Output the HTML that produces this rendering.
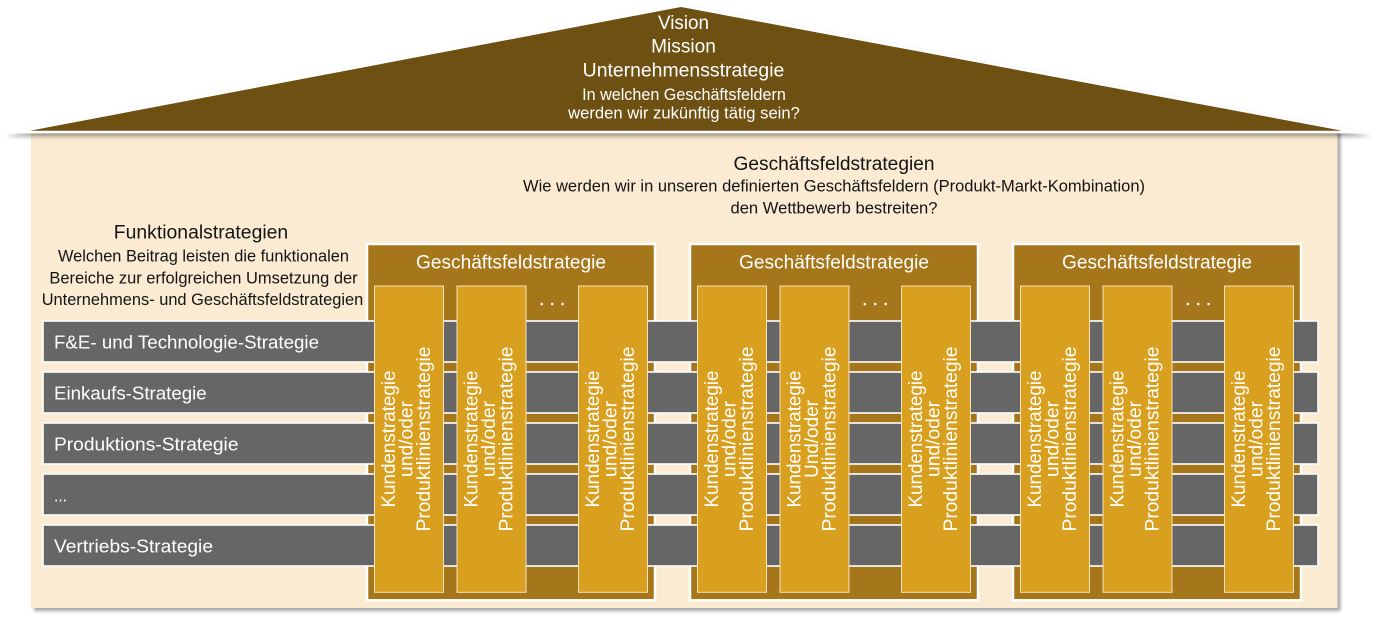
<!DOCTYPE html>
<html><head><meta charset="utf-8">
<style>
html,body{margin:0;padding:0;background:#ffffff;}
svg{display:block;}
text{font-family:"Liberation Sans",Arial,sans-serif;}
.w{fill:#ffffff;}
.k{fill:#141414;}
.ct{fill:#ffffff;font-size:19px;text-anchor:middle;}
.bt{fill:#ffffff;font-size:18.5px;}
.gt{fill:#ffffff;font-size:19px;text-anchor:middle;}
</style></head>
<body>
<svg width="1380" height="619" viewBox="0 0 1380 619" xmlns="http://www.w3.org/2000/svg">
<defs>
<filter id="sh" x="-3%" y="-3%" width="106%" height="110%">
<feDropShadow dx="3" dy="3" stdDeviation="1.6" flood-color="#000" flood-opacity="0.35"/>
</filter>
<filter id="sh2" x="-3%" y="-10%" width="106%" height="130%">
<feDropShadow dx="2" dy="3" stdDeviation="2" flood-color="#000" flood-opacity="0.4"/>
</filter>
</defs>

<!-- house body -->
<rect x="31" y="128" width="1306.5" height="480" fill="#FAEBD2" filter="url(#sh)"/>

<!-- roof -->
<polygon points="3.3,133.2 681,4.3 1369,133.2" fill="#ffffff" filter="url(#sh2)"/>
<polygon points="30,130.7 681,7 1342,130.7" fill="#6E5013"/>

<text class="w" x="683.5" y="29" font-size="19" text-anchor="middle" textLength="51" lengthAdjust="spacingAndGlyphs">Vision</text>
<text class="w" x="683.5" y="52.7" font-size="19" text-anchor="middle" textLength="64.7" lengthAdjust="spacingAndGlyphs">Mission</text>
<text class="w" x="683.5" y="76.7" font-size="19" text-anchor="middle" textLength="201.6" lengthAdjust="spacingAndGlyphs">Unternehmensstrategie</text>
<text class="w" x="684" y="100" font-size="16.5" text-anchor="middle" textLength="203.7" lengthAdjust="spacingAndGlyphs">In welchen Geschäftsfeldern</text>
<text class="w" x="684" y="118.3" font-size="16.5" text-anchor="middle" textLength="231.7" lengthAdjust="spacingAndGlyphs">werden wir zukünftig tätig sein?</text>

<!-- Geschäftsfeldstrategien heading -->
<text class="k" x="834" y="170" font-size="19" text-anchor="middle" textLength="201" lengthAdjust="spacingAndGlyphs">Geschäftsfeldstrategien</text>
<text class="k" x="834" y="191.7" font-size="16.5" text-anchor="middle" textLength="622" lengthAdjust="spacingAndGlyphs">Wie werden wir in unseren definierten Geschäftsfeldern (Produkt-Markt-Kombination)</text>
<text class="k" x="834" y="213.3" font-size="16.5" text-anchor="middle" textLength="207" lengthAdjust="spacingAndGlyphs">den Wettbewerb bestreiten?</text>

<!-- Funktionalstrategien heading -->
<text class="k" x="201" y="238.3" font-size="19" text-anchor="middle" textLength="174.4" lengthAdjust="spacingAndGlyphs">Funktionalstrategien</text>
<text class="k" x="203.5" y="261.7" font-size="16.5" text-anchor="middle" textLength="291" lengthAdjust="spacingAndGlyphs">Welchen Beitrag leisten die funktionalen</text>
<text class="k" x="203.5" y="283.3" font-size="16.5" text-anchor="middle" textLength="308.3" lengthAdjust="spacingAndGlyphs">Bereiche zur erfolgreichen Umsetzung der</text>
<text class="k" x="202.5" y="305" font-size="16.5" text-anchor="middle" textLength="321.6" lengthAdjust="spacingAndGlyphs">Unternehmens- und Geschäftsfeldstrategien</text>

<!-- brown boxes -->
<rect x="367" y="244" width="288" height="356.3" fill="#A5761A" stroke="#ffffff" stroke-width="2.5"/>
<rect x="690" y="244" width="288" height="356.3" fill="#A5761A" stroke="#ffffff" stroke-width="2.5"/>
<rect x="1013" y="244" width="288" height="356.3" fill="#A5761A" stroke="#ffffff" stroke-width="2.5"/>

<text class="gt" x="511" y="268.3" textLength="190" lengthAdjust="spacingAndGlyphs">Geschäftsfeldstrategie</text>
<text class="gt" x="834" y="268.3" textLength="190" lengthAdjust="spacingAndGlyphs">Geschäftsfeldstrategie</text>
<text class="gt" x="1157" y="268.3" textLength="190" lengthAdjust="spacingAndGlyphs">Geschäftsfeldstrategie</text>

<!-- dots -->
<g fill="#ffffff">
<circle cx="541.8" cy="304" r="1.3"/><circle cx="552.2" cy="304" r="1.3"/><circle cx="562.6" cy="304" r="1.3"/>
<circle cx="864.8" cy="304" r="1.3"/><circle cx="875.2" cy="304" r="1.3"/><circle cx="885.6" cy="304" r="1.3"/>
<circle cx="1187.8" cy="304" r="1.3"/><circle cx="1198.2" cy="304" r="1.3"/><circle cx="1208.6" cy="304" r="1.3"/>
</g>

<!-- gray bars -->
<g fill="#666666" stroke="#ffffff" stroke-width="1.6">
<rect x="43" y="321" width="1275" height="41"/>
<rect x="43" y="372" width="1275" height="41"/>
<rect x="43" y="423" width="1275" height="41"/>
<rect x="43" y="474" width="1275" height="41"/>
<rect x="43" y="525" width="1275" height="41"/>
</g>
<text class="bt" x="54" y="348.3" textLength="265" lengthAdjust="spacingAndGlyphs">F&amp;E- und Technologie-Strategie</text>
<text class="bt" x="54" y="399.3" textLength="152.7" lengthAdjust="spacingAndGlyphs">Einkaufs-Strategie</text>
<text class="bt" x="54" y="450.7" textLength="184.5" lengthAdjust="spacingAndGlyphs">Produktions-Strategie</text>
<text class="bt" x="54" y="501.7" textLength="13" lengthAdjust="spacingAndGlyphs">...</text>
<text class="bt" x="54" y="552.7" textLength="159" lengthAdjust="spacingAndGlyphs">Vertriebs-Strategie</text>

<!-- gold columns -->
<g fill="#D99F1E" stroke="#F6E3BC" stroke-width="1">
<rect x="374.5" y="286" width="69" height="306.3"/>
<rect x="457" y="286" width="69" height="306.3"/>
<rect x="578.5" y="286" width="69" height="306.3"/>
<rect x="697.5" y="286" width="69" height="306.3"/>
<rect x="780" y="286" width="69" height="306.3"/>
<rect x="901.5" y="286" width="69" height="306.3"/>
<rect x="1020.5" y="286" width="69" height="306.3"/>
<rect x="1103" y="286" width="69" height="306.3"/>
<rect x="1224.5" y="286" width="69" height="306.3"/>
</g>

<!-- column texts -->
<!-- G1 C1 cx=409 -->
<text class="ct" transform="translate(395.2,439) rotate(-90)" textLength="137" lengthAdjust="spacingAndGlyphs">Kundenstrategie</text>
<text class="ct" transform="translate(412.7,439) rotate(-90)" textLength="76" lengthAdjust="spacingAndGlyphs">und/oder</text>
<text class="ct" transform="translate(430.2,439) rotate(-90)" textLength="185" lengthAdjust="spacingAndGlyphs">Produktlinienstrategie</text>
<!-- G1 C2 cx=491.5 -->
<text class="ct" transform="translate(477.7,439) rotate(-90)" textLength="137" lengthAdjust="spacingAndGlyphs">Kundenstrategie</text>
<text class="ct" transform="translate(495.2,439) rotate(-90)" textLength="76" lengthAdjust="spacingAndGlyphs">und/oder</text>
<text class="ct" transform="translate(512.7,439) rotate(-90)" textLength="185" lengthAdjust="spacingAndGlyphs">Produktlinienstrategie</text>
<!-- G1 C3 cx=613 -->
<text class="ct" transform="translate(599.2,439) rotate(-90)" textLength="137" lengthAdjust="spacingAndGlyphs">Kundenstrategie</text>
<text class="ct" transform="translate(616.7,439) rotate(-90)" textLength="76" lengthAdjust="spacingAndGlyphs">und/oder</text>
<text class="ct" transform="translate(634.2,439) rotate(-90)" textLength="185" lengthAdjust="spacingAndGlyphs">Produktlinienstrategie</text>

<!-- G2 C1 cx=732 -->
<text class="ct" transform="translate(718.2,439) rotate(-90)" textLength="137" lengthAdjust="spacingAndGlyphs">Kundenstrategie</text>
<text class="ct" transform="translate(735.7,439) rotate(-90)" textLength="76" lengthAdjust="spacingAndGlyphs">und/oder</text>
<text class="ct" transform="translate(753.2,439) rotate(-90)" textLength="185" lengthAdjust="spacingAndGlyphs">Produktlinienstrategie</text>
<!-- G2 C2 cx=814.5 -->
<text class="ct" transform="translate(800.7,439) rotate(-90)" textLength="137" lengthAdjust="spacingAndGlyphs">Kundenstrategie</text>
<text class="ct" transform="translate(818.2,439) rotate(-90)" textLength="78" lengthAdjust="spacingAndGlyphs">Und/oder</text>
<text class="ct" transform="translate(835.7,439) rotate(-90)" textLength="185" lengthAdjust="spacingAndGlyphs">Produktlinienstrategie</text>
<!-- G2 C3 cx=936 -->
<text class="ct" transform="translate(922.2,439) rotate(-90)" textLength="137" lengthAdjust="spacingAndGlyphs">Kundenstrategie</text>
<text class="ct" transform="translate(939.7,439) rotate(-90)" textLength="76" lengthAdjust="spacingAndGlyphs">und/oder</text>
<text class="ct" transform="translate(957.2,439) rotate(-90)" textLength="185" lengthAdjust="spacingAndGlyphs">Produktlinienstrategie</text>

<!-- G3 C1 cx=1055 -->
<text class="ct" transform="translate(1041.2,439) rotate(-90)" textLength="137" lengthAdjust="spacingAndGlyphs">Kundenstrategie</text>
<text class="ct" transform="translate(1058.7,439) rotate(-90)" textLength="76" lengthAdjust="spacingAndGlyphs">und/oder</text>
<text class="ct" transform="translate(1076.2,439) rotate(-90)" textLength="185" lengthAdjust="spacingAndGlyphs">Produktlinienstrategie</text>
<!-- G3 C2 cx=1137.5 -->
<text class="ct" transform="translate(1123.7,439) rotate(-90)" textLength="137" lengthAdjust="spacingAndGlyphs">Kundenstrategie</text>
<text class="ct" transform="translate(1141.2,439) rotate(-90)" textLength="76" lengthAdjust="spacingAndGlyphs">und/oder</text>
<text class="ct" transform="translate(1158.7,439) rotate(-90)" textLength="185" lengthAdjust="spacingAndGlyphs">Produktlinienstrategie</text>
<!-- G3 C3 cx=1259 -->
<text class="ct" transform="translate(1245.2,439) rotate(-90)" textLength="137" lengthAdjust="spacingAndGlyphs">Kundenstrategie</text>
<text class="ct" transform="translate(1262.7,439) rotate(-90)" textLength="76" lengthAdjust="spacingAndGlyphs">und/oder</text>
<text class="ct" transform="translate(1280.2,439) rotate(-90)" textLength="185" lengthAdjust="spacingAndGlyphs">Produktlinienstrategie</text>
</svg>
</body></html>
